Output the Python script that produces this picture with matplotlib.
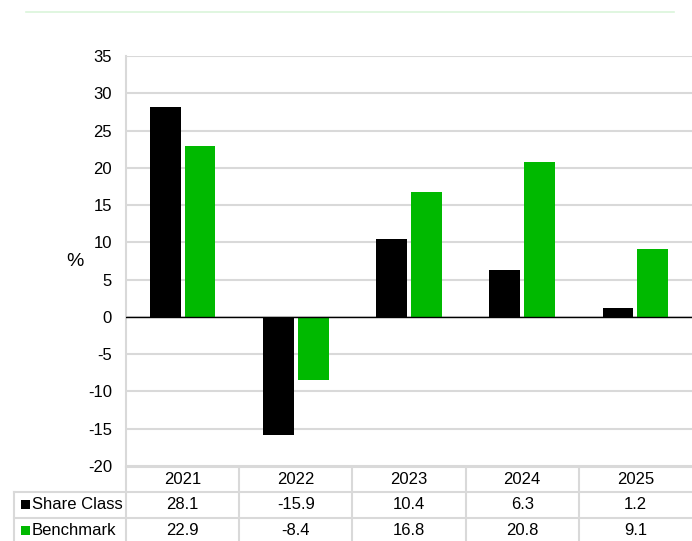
import matplotlib
matplotlib.use("Agg")
import matplotlib.pyplot as plt
from matplotlib.lines import Line2D
from matplotlib.patches import Rectangle
from matplotlib.transforms import blended_transform_factory
import numpy as np

years = ["2021", "2022", "2023", "2024", "2025"]
share_class = [28.1, -15.9, 10.4, 6.3, 1.2]
benchmark = [22.9, -8.4, 16.8, 20.8, 9.1]
series_names = ["Share Class", "Benchmark"]
series_colors = ["#000000", "#00b900"]
yticks = list(range(-20, 40, 5))

plt.rcParams['font.family'] = ['Liberation Sans', 'DejaVu Sans']

W, H = 692, 541
fig = plt.figure(figsize=(W / 100, H / 100), dpi=100)

def px_y(p):
    return 1 - p / H

ax_left, ax_right = 126 / W, 1.0
ax_top, ax_bot = px_y(56), px_y(466)
ax = fig.add_axes([ax_left, ax_bot, ax_right - ax_left, ax_top - ax_bot])

x = np.arange(len(years))
bw = 0.272
off = 0.154
grid_c = "#d9d9d9"
ax.bar(x - off, share_class, bw, color=series_colors[0], zorder=3)
ax.bar(x + off, benchmark, bw, color=series_colors[1], zorder=3)

ax.set_xlim(-0.5, len(years) - 0.5)
ax.set_ylim(-20, 35)
ax.set_yticks(yticks)
ax.set_yticklabels([str(t) for t in yticks], fontsize=12)
ax.tick_params(axis='y', length=0, pad=10)
ax.set_xticks([])
ax.yaxis.grid(True, color=grid_c, linewidth=1.5, zorder=0)
for s in ["top", "right", "bottom"]:
    ax.spines[s].set_visible(False)
ax.spines["left"].set_color(grid_c)
ax.spines["left"].set_linewidth(1.5)
ax.axhline(0, color="#000000", linewidth=1.0, zorder=4)
ax.set_ylabel("%", rotation=0, fontsize=14, va="center", ha="center")
ax.yaxis.set_label_coords(-0.09, 0.50)

# table below the axes
tr = blended_transform_factory(ax.transAxes, fig.transFigure)
row_lines = [467, 491.5, 518]
row_centers = [480, 504.5, 530.5]
label_left = (14 - 126) / 566
col_edges = [i / len(years) for i in range(len(years) + 1)]

def L(xs, ys, **kw):
    fig.add_artist(Line2D(xs, ys, transform=tr, color=grid_c, linewidth=1.5, clip_on=False, **kw))

L([0, 1], [px_y(row_lines[0])] * 2)
for r in row_lines[1:]:
    L([label_left, 1], [px_y(r)] * 2)
for ce in col_edges[:-1]:
    L([ce, ce], [px_y(row_lines[0]), 0])
L([label_left, label_left], [px_y(row_lines[1]), 0])

for i, yv in enumerate(years):
    fig.text((col_edges[i] + col_edges[i + 1]) / 2, px_y(row_centers[0]), yv,
             transform=tr, ha="center", va="center", fontsize=12)
for r, (name, vals, col) in enumerate(zip(series_names, [share_class, benchmark], series_colors)):
    yc = px_y(row_centers[r + 1])
    for i, v in enumerate(vals):
        fig.text((col_edges[i] + col_edges[i + 1]) / 2, yc, f"{v:.1f}",
                 transform=tr, ha="center", va="center", fontsize=12)
    sq_x = (21 - 126) / 566
    sq_w = 9 / 566
    fig.add_artist(Rectangle((sq_x, yc - 4.5 / H), sq_w, 9 / H, transform=tr,
                             facecolor=col, edgecolor="none", clip_on=False))
    fig.text((32 - 126) / 566, yc, name, transform=tr, ha="left", va="center", fontsize=12)

# thin green line at top
fig.add_artist(Line2D([26 / W, 674 / W], [px_y(12)] * 2, transform=fig.transFigure,
                      color="#daf5da", linewidth=1.2))

fig.savefig("out.png", dpi=100)
